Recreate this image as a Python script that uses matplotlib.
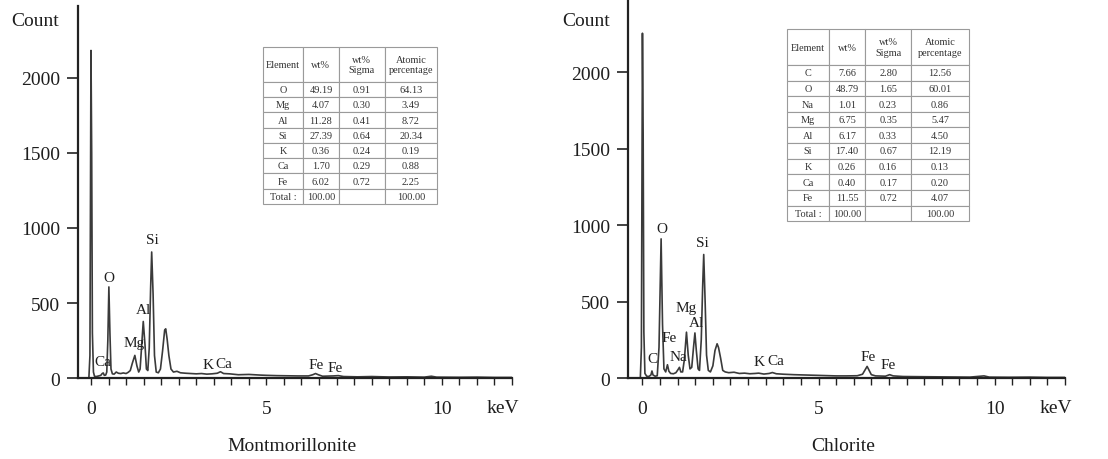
import matplotlib
matplotlib.use('Agg')
import matplotlib.pyplot as plt
from matplotlib.ticker import MultipleLocator, FixedLocator

plt.rcParams['font.family'] = 'serif'
plt.rcParams['font.serif'] = ['Liberation Serif', 'DejaVu Serif']

# ---- Montmorillonite spectrum (keV, count)
mont_kev = [-0.06, -0.03, 0.0, 0.02, 0.04, 0.07, 0.10, 0.15, 0.22, 0.28, 0.32, 0.35, 0.38, 0.42,
            0.45, 0.48, 0.51, 0.54, 0.57, 0.61, 0.66, 0.72, 0.78, 0.85, 0.92, 1.00, 1.06, 1.12,
            1.18, 1.25, 1.31, 1.36, 1.40, 1.44, 1.49, 1.54, 1.58, 1.62, 1.66, 1.70, 1.73, 1.77,
            1.81, 1.86, 1.92, 1.98, 2.04, 2.10, 2.13, 2.17, 2.22, 2.28, 2.35, 2.45, 2.55, 2.70,
            2.85, 3.00, 3.15, 3.30, 3.45, 3.60, 3.69, 3.78, 3.95, 4.2, 4.5, 4.8, 5.0, 5.3, 5.6,
            5.9, 6.2, 6.32, 6.40, 6.48, 6.6, 6.9, 7.05, 7.2, 7.6, 8.0, 8.5, 9.0, 9.5, 9.7, 9.85,
            10.5, 11.0, 11.5, 12.0]
mont_cnt = [0, 150, 2183, 1500, 300, 40, 12, 10, 14, 18, 30, 34, 18, 20,
            40, 250, 607, 300, 60, 28, 26, 40, 32, 30, 34, 30, 38, 50,
            100, 151, 80, 40, 60, 200, 377, 220, 60, 50, 200, 600, 840, 560,
            150, 40, 35, 60, 180, 320, 328, 260, 150, 60, 40, 45, 35, 32,
            30, 28, 30, 26, 28, 32, 42, 30, 28, 22, 24, 20, 18, 16, 15,
            14, 14, 22, 30, 22, 12, 14, 16, 10, 8, 10, 7, 8, 6, 12, 6,
            5, 6, 4, 4]

# ---- Chlorite spectrum
chl_kev = [-0.06, -0.03, 0.0, 0.02, 0.04, 0.07, 0.12, 0.18, 0.24, 0.27, 0.30, 0.36, 0.42, 0.47,
           0.53, 0.57, 0.61, 0.66, 0.71, 0.75, 0.80, 0.88, 0.95, 1.01, 1.05, 1.09, 1.14, 1.19,
           1.25, 1.30, 1.35, 1.40, 1.45, 1.49, 1.53, 1.58, 1.62, 1.67, 1.71, 1.74, 1.78, 1.82,
           1.87, 1.93, 2.00, 2.06, 2.12, 2.16, 2.22, 2.28, 2.35, 2.45, 2.60, 2.75, 2.9, 3.05,
           3.2, 3.3, 3.45, 3.6, 3.69, 3.8, 4.0, 4.3, 4.6, 4.9, 5.2, 5.5, 5.8, 6.1, 6.25, 6.38,
           6.5, 6.62, 6.9, 7.02, 7.12, 7.4, 7.8, 8.3, 8.8, 9.3, 9.7, 9.85, 10.4, 11.0, 11.5, 12.0]
chl_cnt = [0, 200, 2255, 1600, 300, 30, 12, 10, 20, 46, 20, 12, 15, 200,
           910, 350, 60, 40, 87, 45, 30, 28, 35, 55, 70, 40, 40, 120,
           300, 150, 60, 70, 200, 295, 180, 60, 50, 250, 600, 808, 500, 150,
           50, 40, 80, 180, 224, 200, 130, 50, 40, 35, 38, 30, 32, 28,
           30, 32, 26, 30, 36, 28, 25, 22, 20, 18, 16, 14, 14, 15, 25, 76,
           22, 14, 12, 22, 14, 10, 9, 8, 7, 6, 14, 6, 5, 6, 4, 4]

# ---- peak labels (text, keV, count)
mont_labels = [('Ca', 0.34, 107), ('O', 0.51, 673), ('Mg', 1.23, 240), ('Al', 1.49, 460),
               ('Si', 1.74, 920), ('K', 3.35, 93), ('Ca', 3.8, 100), ('Fe', 6.42, 87),
               ('Fe', 6.97, 67)]
chl_labels = [('C', 0.28, 131), ('O', 0.54, 980), ('Fe', 0.77, 268), ('Na', 1.02, 144),
              ('Mg', 1.24, 464), ('Al', 1.53, 366), ('Si', 1.69, 886), ('K', 3.3, 109),
              ('Ca', 3.8, 115), ('Fe', 6.4, 144), ('Fe', 6.97, 87)]

# ---- tables
table_header = ['Element', 'wt%', 'wt%\nSigma', 'Atomic\npercentage']
mont_elem = ['O', 'Mg', 'Al', 'Si', 'K', 'Ca', 'Fe', 'Total :']
mont_wt = ['49.19', '4.07', '11.28', '27.39', '0.36', '1.70', '6.02', '100.00']
mont_sigma = ['0.91', '0.30', '0.41', '0.64', '0.24', '0.29', '0.72', '']
mont_atomic = ['64.13', '3.49', '8.72', '20.34', '0.19', '0.88', '2.25', '100.00']

chl_elem = ['C', 'O', 'Na', 'Mg', 'Al', 'Si', 'K', 'Ca', 'Fe', 'Total :']
chl_wt = ['7.66', '48.79', '1.01', '6.75', '6.17', '17.40', '0.26', '0.40', '11.55', '100.00']
chl_sigma = ['2.80', '1.65', '0.23', '0.35', '0.33', '0.67', '0.16', '0.17', '0.72', '']
chl_atomic = ['12.56', '60.01', '0.86', '5.47', '4.50', '12.19', '0.13', '0.20', '4.07', '100.00']

LINE = '#3a3a3a'
TXT = '#1e1e1e'


def draw_panel(ax, kev, cnt, labels, xlim, ylim, cols, tbl_bbox, col_w, title, title_x):
    ax.plot(kev, cnt, color=LINE, lw=1.2)
    ax.set_xlim(*xlim)
    ax.set_ylim(*ylim)
    for s in ['top', 'right']:
        ax.spines[s].set_visible(False)
    for s in ['left', 'bottom']:
        ax.spines[s].set_linewidth(1.6)
        ax.spines[s].set_color('#222222')
    ax.xaxis.set_major_locator(FixedLocator([0, 5, 10]))
    ax.xaxis.set_minor_locator(MultipleLocator(0.5))
    ax.yaxis.set_major_locator(FixedLocator([0, 500, 1000, 1500, 2000]))
    ax.tick_params(axis='x', which='both', direction='out', length=5, width=1, color='#222222')
    ax.tick_params(axis='x', which='major', labelsize=14, pad=11, labelcolor=TXT)
    ax.tick_params(axis='y', direction='out', length=8, width=1.2, color='#222222',
                   labelsize=14, pad=5, labelcolor=TXT)
    for t, x, y in labels:
        ax.text(x, y, t, ha='center', va='center', fontsize=11, color=TXT)
    ax.annotate('keV', xy=(11.75, 0), xytext=(0, -29), textcoords='offset pixels',
                ha='center', va='center', fontsize=14, color=TXT)

    rows = list(zip(*cols))
    tbl = ax.table(cellText=rows, colLabels=table_header, colWidths=col_w,
                   cellLoc='center', bbox=tbl_bbox)
    tbl.auto_set_font_size(False)
    tbl.set_fontsize(7.4)
    for (r, c), cell in tbl.get_celld().items():
        cell.set_edgecolor('#9a9a9a')
        cell.set_linewidth(0.8)
        cell.set_facecolor('white')
        cell.get_text().set_color('#333333')
        if r == 0:
            cell.set_height(cell.get_height() * 2.3)
    fig.text(title_x, 0.030, title, ha='center', va='center', fontsize=14, color=TXT)


fig = plt.figure(figsize=(11.08, 4.6), dpi=100)

ax1 = fig.add_axes([0.0704, 0.176, 0.3917, 0.809])
draw_panel(ax1, mont_kev, mont_cnt, mont_labels, (-0.37, 12.0), (0, 2480),
           [mont_elem, mont_wt, mont_sigma, mont_atomic],
           [0.426, 0.468, 0.401, 0.422], [40, 36, 46, 52], 'Montmorillonite', 0.2635)
fig.text(35 / 1108, 1 - 21 / 460, 'Count', ha='center', va='center', fontsize=14, color=TXT)

ax2 = fig.add_axes([0.5668, 0.176, 0.3944, 0.824])
draw_panel(ax2, chl_kev, chl_cnt, chl_labels, (-0.41, 12.0), (0, 2479),
           [chl_elem, chl_wt, chl_sigma, chl_atomic],
           [0.364, 0.414, 0.4165, 0.5066], [42, 36, 46, 58], 'Chlorite', 843 / 1108)
fig.text(586 / 1108, 1 - 21 / 460, 'Count', ha='center', va='center', fontsize=14, color=TXT)

fig.savefig('out.png', dpi=100)
